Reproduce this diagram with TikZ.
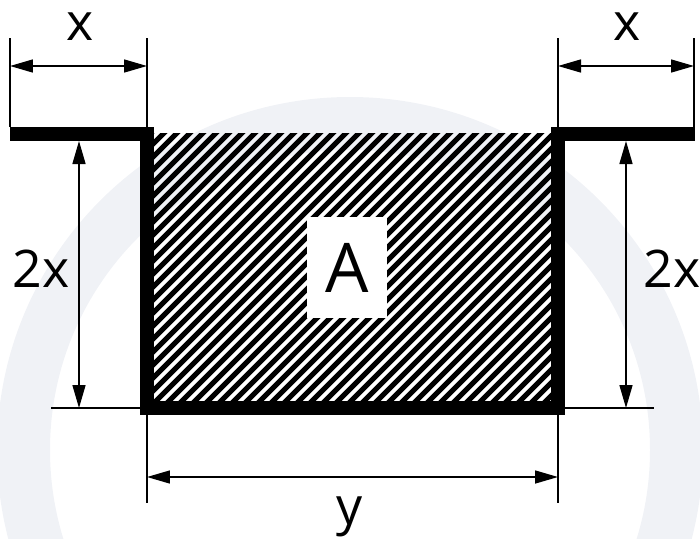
\documentclass[tikz,border=0pt]{standalone}
\usepackage{fontspec}
\setmainfont{Open Sans}
\usepackage{xcolor}
\usetikzlibrary{arrows.meta, calc}

\definecolor{wmark}{RGB}{240,242,246}

\begin{document}
\begin{tikzpicture}[
    x=0.02cm, y=-0.02cm,
    >={Triangle[length=0.46cm, width=0.26cm]},
    dim/.style={<->, line width=0.03cm},
    ext/.style={line width=0.03cm},
    wall/.style={line width=0.28cm, line join=miter},
    hatch/.style={line width=0.105cm},
    lbl/.style={font=\fontsize{29.5}{30}\selectfont, inner sep=0pt, anchor=base},
    areabox/.style={fill=white, minimum width=1.6cm, minimum height=2.02cm, inner sep=0pt,
        font=\fontsize{39}{40}\selectfont}
]
\useasboundingbox (0,0) rectangle (700,538);

% faint watermark ring
\fill[wmark, even odd rule] (350,450) circle (353) (350,450) circle (300);

% hatched area
\begin{scope}
    \clip (153,133) rectangle (552,402);
    \foreach \k in {0,...,54} {
        \draw[hatch] ({154+13*\k-290},420) -- ++(310,-310);
    }
\end{scope}

% channel outline
\draw[wall] (10,134) -- (146.5,134) -- (146.5,408) -- (558,408) -- (558,134) -- (695,134);

% area label
\node[areabox] (A) at (347,267.5) {\raisebox{-0.14cm}{A}};

% top left dimension x
\coordinate (tl1) at (10,38);   \coordinate (tl2) at (10,127);
\coordinate (tl3) at (147,38);  \coordinate (tl4) at (147,127);
\draw[ext] (tl1) -- (tl2);
\draw[ext] (tl3) -- (tl4);
\coordinate (xl1) at (10,66);   \coordinate (xl2) at (147,66);
\draw[dim] (xl1) -- (xl2);
\node[lbl] (xL) at (80,40) {x};

% top right dimension x
\coordinate (tr1) at (558,38);  \coordinate (tr2) at (558,127);
\coordinate (tr3) at (694,38);  \coordinate (tr4) at (694,127);
\draw[ext] (tr1) -- (tr2);
\draw[ext] (tr3) -- (tr4);
\coordinate (xr1) at (558,66);  \coordinate (xr2) at (694,66);
\draw[dim] (xr1) -- (xr2);
\node[lbl] (xR) at (627,40) {x};

% left height 2x
\coordinate (bl1) at (51,408);  \coordinate (bl2) at (147,408);
\draw[ext] (bl1) -- (bl2);
\coordinate (hl1) at (79,141);  \coordinate (hl2) at (79,408);
\draw[dim] (hl1) -- (hl2);
\node[lbl] (hL) at (41,287) {2x};

% right height 2x
\coordinate (br1) at (558,408); \coordinate (br2) at (654,408);
\draw[ext] (br1) -- (br2);
\coordinate (hr1) at (626,141); \coordinate (hr2) at (626,408);
\draw[dim] (hr1) -- (hr2);
\node[lbl] (hR) at (672,287) {2x};

% bottom width y
\coordinate (bb1) at (147,415); \coordinate (bb2) at (147,503);
\coordinate (bb3) at (558,415); \coordinate (bb4) at (558,503);
\draw[ext] (bb1) -- (bb2);
\draw[ext] (bb3) -- (bb4);
\coordinate (yl1) at (147,477); \coordinate (yl2) at (558,477);
\draw[dim] (yl1) -- (yl2);
\node[lbl] (yB) at (350,524) {y};
\end{tikzpicture}
\end{document}
